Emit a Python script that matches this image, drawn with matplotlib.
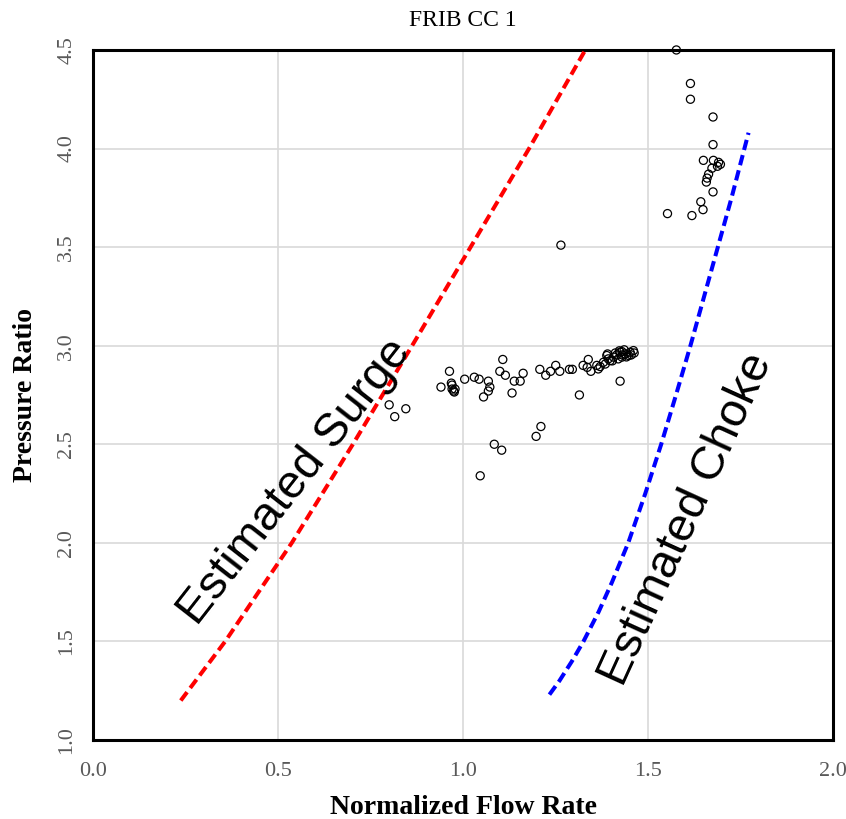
import matplotlib
matplotlib.use('Agg')
import matplotlib.pyplot as plt

# operating points
flow = [0.800, 0.845, 0.815,
        0.940, 0.963, 0.968, 0.970, 0.974, 0.978, 0.970, 0.976,
        1.004, 1.030, 1.043, 1.068, 1.072, 1.068, 1.055,
        1.107, 1.099, 1.114, 1.138, 1.154, 1.162, 1.132,
        1.084, 1.104, 1.046, 1.207, 1.210, 1.197,
        1.223, 1.236, 1.250, 1.261, 1.287, 1.295, 1.264,
        1.324, 1.338, 1.335, 1.345, 1.361, 1.314, 1.424,
        1.365, 1.370, 1.379, 1.384, 1.388, 1.392, 1.397, 1.403, 1.406, 1.411,
        1.415, 1.419, 1.422, 1.424, 1.429, 1.430, 1.435, 1.438, 1.441, 1.447,
        1.451, 1.454, 1.460, 1.462, 1.390, 1.429,
        1.576, 1.614, 1.614, 1.675, 1.675, 1.649, 1.676, 1.690, 1.695, 1.687,
        1.672, 1.663, 1.659, 1.657, 1.675, 1.642, 1.648, 1.618, 1.552]
ratio = [2.70, 2.68, 2.64,
         2.79, 2.87, 2.81, 2.78, 2.77, 2.78, 2.80, 2.765,
         2.83, 2.84, 2.83, 2.82, 2.79, 2.77, 2.74,
         2.93, 2.87, 2.85, 2.82, 2.82, 2.86, 2.76,
         2.50, 2.47, 2.34, 2.88, 2.59, 2.54,
         2.85, 2.87, 2.90, 2.87, 2.88, 2.88, 3.51,
         2.90, 2.93, 2.89, 2.87, 2.90, 2.75, 2.82,
         2.882, 2.894, 2.916, 2.907, 2.950, 2.933, 2.924, 2.923, 2.942, 2.963,
         2.953, 2.933, 2.974, 2.967, 2.942, 2.953, 2.979, 2.958, 2.943, 2.950,
         2.967, 2.953, 2.975, 2.963, 2.958, 2.970,
         4.50, 4.33, 4.25, 4.16, 4.02, 3.94, 3.94, 3.93, 3.92, 3.91,
         3.90, 3.87, 3.85, 3.83, 3.78, 3.73, 3.69, 3.66, 3.67]

# estimated surge / choke lines
surge_flow = [0.237, 0.297, 0.357, 0.447, 0.537, 0.702, 0.862, 1.020, 1.178, 1.330, 1.362]
surge_ratio = [1.20, 1.35, 1.50, 1.75, 2.00, 2.50, 3.00, 3.50, 4.00, 4.50, 4.60]

choke_flow = [1.233, 1.260, 1.294, 1.325, 1.366, 1.402, 1.446, 1.492, 1.535,
              1.575, 1.614, 1.651, 1.688, 1.725, 1.771]
choke_ratio = [1.23, 1.30, 1.40, 1.50, 1.65, 1.80, 2.00, 2.25, 2.50,
               2.75, 3.00, 3.25, 3.50, 3.75, 4.08]

serif = 'Liberation Serif'
sans = 'Liberation Sans'

fig = plt.figure(figsize=(8.46, 8.19), dpi=100)
ax = fig.add_axes([0.110, 0.0965, 0.875, 0.8425])

ax.set_xlim(0, 2.0)
ax.set_ylim(1.0, 4.5)
ax.set_xticks([0.0, 0.5, 1.0, 1.5, 2.0])
ax.set_yticks([1.0, 1.5, 2.0, 2.5, 3.0, 3.5, 4.0, 4.5])
ax.set_xticklabels(['0.0', '0.5', '1.0', '1.5', '2.0'], fontfamily=serif, fontsize=16, color='#595959')
ax.set_yticklabels(['1.0', '1.5', '2.0', '2.5', '3.0', '3.5', '4.0', '4.5'], fontfamily=serif, fontsize=16,
                   color='#595959', rotation=90, va='center')
ax.tick_params(axis='x', length=0, pad=16)
ax.tick_params(axis='y', length=0, pad=12)
ax.grid(True, color='#d9d9d9', linewidth=1.2)
ax.set_axisbelow(True)
for s in ax.spines.values():
    s.set_linewidth(2.2)
    s.set_color('black')

ax.plot(surge_flow, surge_ratio, color='red', linewidth=2.9, dashes=(2.6, 1.3), zorder=3)
ax.plot(choke_flow, choke_ratio, color='blue', linewidth=2.9, dashes=(2.6, 1.3), zorder=3)
ax.scatter(flow, ratio, s=34, facecolors='none', edgecolors='black', linewidths=0.9, zorder=4, clip_on=False)

ax.text(0.545, 2.31, 'Estimated Surge', fontfamily=sans, fontsize=34, rotation=52,
        ha='center', va='center', rotation_mode='anchor')
ax.text(1.605, 2.12, 'Estimated Choke', fontfamily=sans, fontsize=34, rotation=65.5,
        ha='center', va='center', rotation_mode='anchor')

fig.text(0.5473, 1 - 20 / 819, 'FRIB CC 1', fontfamily=serif, fontsize=17, ha='center', va='center')
ax.set_xlabel('Normalized Flow Rate', fontfamily=serif, fontsize=20, fontweight='bold', labelpad=10)
ax.set_ylabel('Pressure Ratio', fontfamily=serif, fontsize=20, fontweight='bold', labelpad=14)

plt.savefig('out.png', dpi=100)
